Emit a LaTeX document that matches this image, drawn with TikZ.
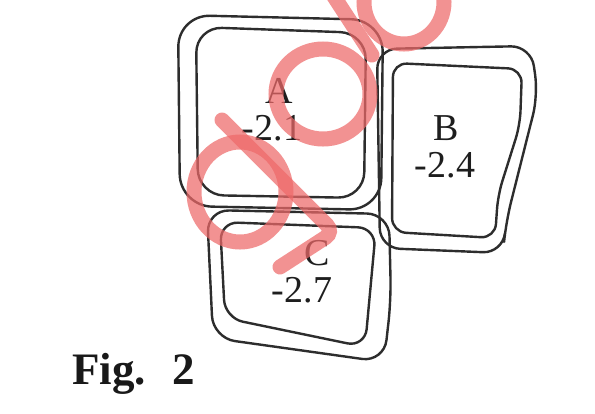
\documentclass[tikz,border=0pt]{standalone}
\usepackage{fontspec}
\setmainfont{Liberation Serif}
\begin{document}
\begin{tikzpicture}[x=1pt,y=-1pt,
  outline/.style={draw={rgb,255:red,45;green,45;blue,45},line width=2.4pt,line join=round},
  lbl/.style={font=\fontsize{38}{38}\selectfont,text={rgb,255:red,30;green,30;blue,30},inner sep=0pt},
  stamp/.style={draw={rgb,255:red,238;green,105;blue,105},draw opacity=0.72,line width=15pt,line cap=round}]
\useasboundingbox (0,0) rectangle (595,413);
\fill[white] (0,0) rectangle (595,413);
% box A
\draw[outline,rounded corners=32pt] (178,15) -- (383,20) -- (381,210) -- (180,206) -- cycle;
\draw[outline,rounded corners=26pt] (196,27) -- (366,33) -- (364,198) -- (198,195) -- cycle;
% box B
\draw[outline,rounded corners=20pt] (377,49) -- (531,46) -- (538,95) -- (506,222) -- (503,253) -- (380,248) -- cycle;
\draw[outline,rounded corners=14pt] (393,63) -- (522,69) -- (520,125) -- (498,195) -- (495,238) -- (392,232) -- cycle;
% box C
\draw[outline,rounded corners=22pt] (207,210) -- (389,214) -- (391,300) -- (384,362) -- (213,338) -- cycle;
\draw[outline,rounded corners=18pt] (220,222) -- (376,228) -- (365,347) -- (225,318) -- cycle;
% labels
\node[lbl] (la) at (279,91) {A};
\node[lbl] (va) at (272,128) {-2.1};
\node[lbl] (lb) at (446,128) {B};
\node[lbl] (vb) at (445,165) {-2.4};
\node[lbl] (lc) at (317,253) {C};
\node[lbl] (vc) at (302,290) {-2.7};
\node[anchor=base west,inner sep=0pt,font=\bfseries\fontsize{45}{45}\selectfont,text={rgb,255:red,25;green,25;blue,25}] (fig) at (72,384) {Fig.\hspace{0.6em}2};
% red stamp marks
\begin{scope}
\clip (0,0) rectangle (595,413);
\draw[stamp] (404,2) ellipse [x radius=40pt, y radius=42pt];
\draw[stamp] (333,-5) -- (372,55);
\draw[stamp] (323,94) ellipse [x radius=47pt, y radius=45pt];
\draw[stamp] (240,192) ellipse [x radius=46pt, y radius=50pt];
\draw[stamp,rounded corners=10pt] (222,120) -- (334,232) -- (280,267);
\end{scope}
\end{tikzpicture}
\end{document}
